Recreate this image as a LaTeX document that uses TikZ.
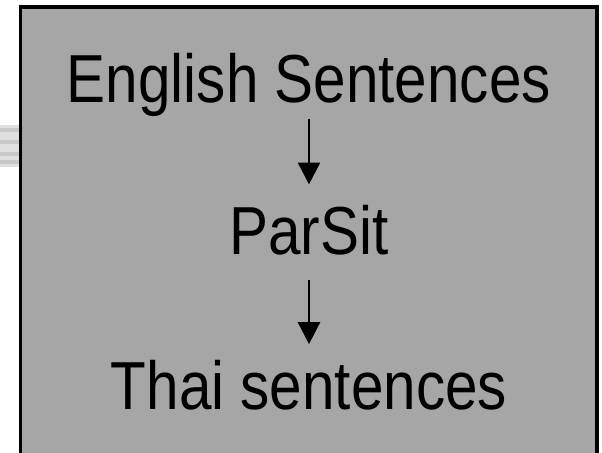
\documentclass[tikz,border=0pt]{standalone}
\usepackage{fontspec}
\setmainfont[FakeStretch=0.86]{Liberation Sans}
\usepackage{tikz}
\usetikzlibrary{arrows.meta, positioning}
\definecolor{slidegrey}{RGB}{166, 166, 166}
\definecolor{stripegrey}{RGB}{200, 200, 200}

\begin{document}
\begin{tikzpicture}[x=0.03cm, y=-0.03cm,
  stage/.style={font=\fontsize{58}{64}\selectfont, anchor=base, inner sep=0pt},
  flow/.style={line width=2.3pt, -{Triangle[length=18.7pt, width=18.7pt]}}]
  \useasboundingbox (0,0) rectangle (602,453);
  % striped band peeking out on the left
  \fill[white!88!black] (0,125) rectangle (20,167);
  \foreach \y in {128,140,152,160}
    \fill[stripegrey] (0,\y) rectangle (20,\y+4);
  % the grey panel
  \draw[line width=2.6pt, fill=slidegrey] (20.5,7) rectangle (597,470);
  \node[stage] (eng) at (309,103) {English Sentences};
  \node[stage] (parsit) at (309,255) {ParSit};
  \node[stage] (thai) at (309,410) {Thai sentences};
  \draw[flow, shorten <=1pt, shorten >=18pt] (eng.south) -- (parsit.north);
  \draw[flow, shorten <=21pt, shorten >=14pt] (parsit.south) -- (thai.north);
\end{tikzpicture}
\end{document}
